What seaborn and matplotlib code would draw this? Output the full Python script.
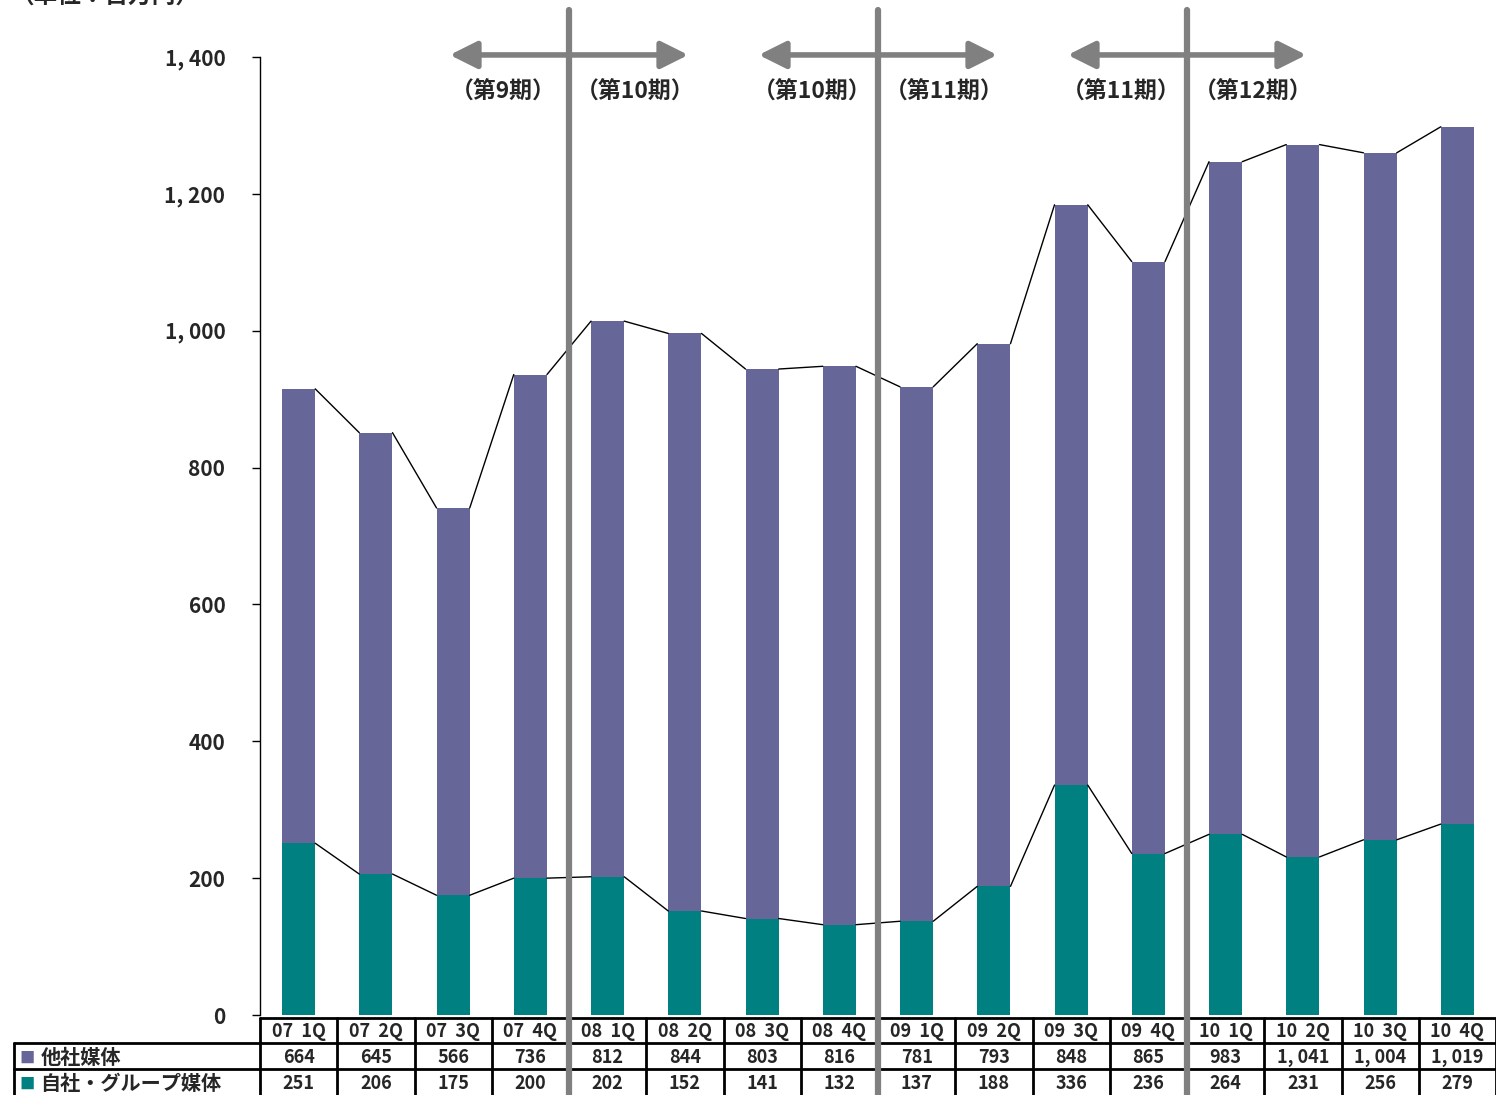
import numpy as np
import matplotlib
matplotlib.use('Agg')
import matplotlib.pyplot as plt
from matplotlib.lines import Line2D
import seaborn as sns

# data (unit: million yen)
quarters = ['07  1Q', '07  2Q', '07  3Q', '07  4Q', '08  1Q', '08  2Q', '08  3Q', '08  4Q',
            '09  1Q', '09  2Q', '09  3Q', '09  4Q', '10  1Q', '10  2Q', '10  3Q', '10  4Q']
other_media = [664, 645, 566, 736, 812, 844, 803, 816, 781, 793, 848, 865, 983, 1041, 1004, 1019]
own_media = [251, 206, 175, 200, 202, 152, 141, 132, 137, 188, 336, 236, 264, 231, 256, 279]
yticks = [0, 200, 400, 600, 800, 1000, 1200, 1400]
period_labels = [('（第9期）', '（第10期）'), ('（第10期）', '（第11期）'), ('（第11期）', '（第12期）')]
period_breaks = [3.5, 7.5, 11.5]

sns.set_style('white')
plt.rcParams['font.family'] = ['Noto Sans CJK JP', 'DejaVu Sans']
plt.rcParams['font.weight'] = 'bold'

purple = '#666699'
teal = '#008080'
gray = '#808080'

W, H = 1496, 1095
fig = plt.figure(figsize=(W / 100, H / 100), dpi=100)
ax = fig.add_axes([260 / W, 80 / H, 1236 / W, 958 / H])

totals = [a + b for a, b in zip(other_media, own_media)]
bw = 0.43
sns.barplot(x=quarters, y=totals, color=purple, saturation=1, width=bw, linewidth=0, ax=ax)
sns.barplot(x=quarters, y=own_media, color=teal, saturation=1, width=bw, linewidth=0, ax=ax)

# series lines between bar tops
for i in range(len(quarters) - 1):
    ax.plot([i + bw / 2, i + 1 - bw / 2], [totals[i], totals[i + 1]], color='black', lw=1)
    ax.plot([i + bw / 2, i + 1 - bw / 2], [own_media[i], own_media[i + 1]], color='black', lw=1)

ax.set_xlim(-0.5, len(quarters) - 0.5)
ax.set_ylim(0, 1400)
ax.set_yticks(yticks)
ax.set_yticklabels([f'{v:,}'.replace(',', ', ') for v in yticks], fontsize=15, fontweight='bold')
ax.set_xticks([])
ax.set_xlabel('')
ax.set_ylabel('')
for s in ['top', 'right', 'bottom']:
    ax.spines[s].set_visible(False)
ax.spines['left'].set_color('black')
ax.spines['left'].set_linewidth(1)
ax.tick_params(axis='y', direction='out', length=6, width=1, color='black', pad=19, left=True)

# period arrows and labels
for xb, (lab_l, lab_r) in zip(period_breaks, period_labels):
    ax.annotate('', xy=(xb - 1.58, 1403), xytext=(xb + 1.58, 1403),
                arrowprops=dict(arrowstyle='<|-|>,head_length=1.1,head_width=0.55',
                                color=gray, lw=4, mutation_scale=15),
                annotation_clip=False)
    ax.text(xb - 0.85, 1348, lab_l, ha='center', va='center', fontsize=16.5,
            fontweight='bold', clip_on=False)
    ax.text(xb + 0.86, 1348, lab_r, ha='center', va='center', fontsize=16.5,
            fontweight='bold', clip_on=False)

# unit label, mostly cut off at the top as in the source
fig.text(10 / W, 1 - 8 / H, '（単位：百万円）', ha='left', va='bottom', fontsize=17, fontweight='bold')

# data table below the chart
tx = fig.add_axes([12 / W, 0, (W - 12) / W, 78 / H])
x0 = -0.5 - 248 / 77.25
tx.set_xlim(x0, 15.5)
tx.set_ylim(0, 3)
tx.axis('off')
lw_t = 2
tx.plot([-0.5, 15.5], [2.97, 2.97], color='black', lw=lw_t)
for yy in [2, 1]:
    tx.plot([x0 + 0.02, 15.5], [yy, yy], color='black', lw=lw_t)
for k in range(len(quarters) + 1):
    tx.plot([k - 0.5, k - 0.5], [0, 2.97], color='black', lw=lw_t)
tx.plot([x0 + 0.03, x0 + 0.03], [0, 2], color='black', lw=lw_t)
for i, q in enumerate(quarters):
    tx.text(i, 2.45, q, ha='center', va='center', fontsize=13, fontweight='bold')
    tx.text(i, 1.45, f'{other_media[i]:,}'.replace(',', ', '), ha='center', va='center',
            fontsize=13, fontweight='bold')
    tx.text(i, 0.45, f'{own_media[i]:,}'.replace(',', ', '), ha='center', va='center',
            fontsize=13, fontweight='bold')
tx.text(x0 + 0.1, 1.45, '■', color=purple, ha='left', va='center', fontsize=11)
tx.text(x0 + 0.37, 1.45, '他社媒体', ha='left', va='center', fontsize=14.5, fontweight='bold')
tx.text(x0 + 0.1, 0.45, '■', color=teal, ha='left', va='center', fontsize=11)
tx.text(x0 + 0.37, 0.45, '自社・グループ媒体', ha='left', va='center', fontsize=14.5, fontweight='bold')

# period divider lines across chart and table
for xb in period_breaks:
    xf = (260 + (xb + 0.5) * 77.25) / W
    fig.add_artist(Line2D([xf, xf], [0, 1 - 10 / H], color=gray, lw=4.5))

fig.savefig('out.png', dpi=100)
